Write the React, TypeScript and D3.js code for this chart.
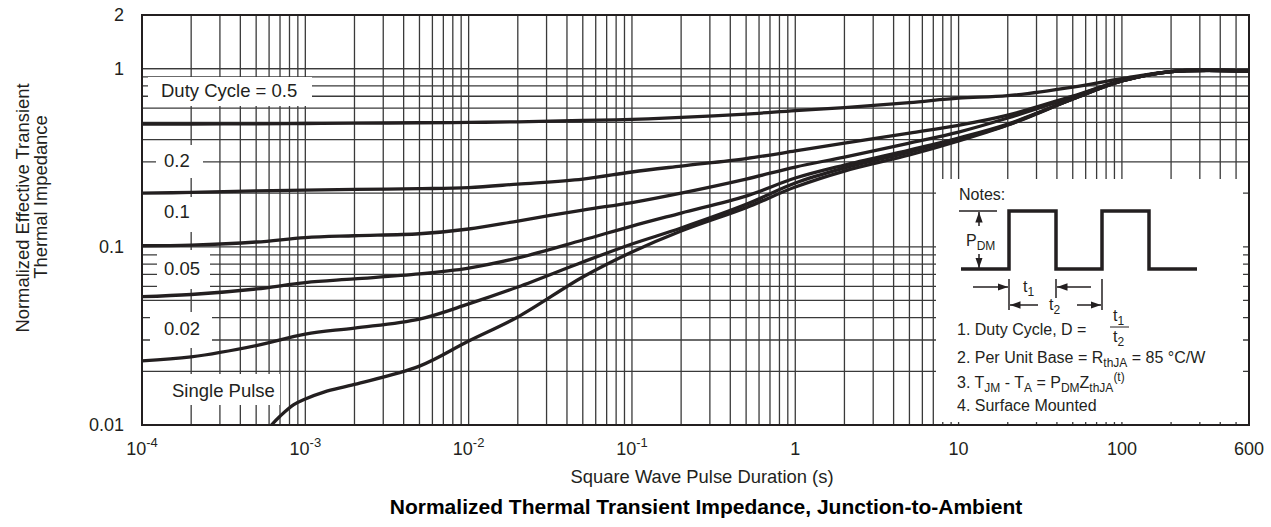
import React from 'react';
import * as d3 from 'd3';

// Chart values
const pulseDurations = [1e-4, 2e-4, 5e-4, 1e-3, 2e-3, 5e-3, 1e-2, 2e-2, 5e-2, 0.1, 0.2, 0.5, 1, 2, 5, 10, 20, 50, 100, 200, 600];
const duty05 = [0.489, 0.489, 0.49, 0.492, 0.494, 0.497, 0.499, 0.503, 0.512, 0.519, 0.532, 0.556, 0.582, 0.605, 0.645, 0.683, 0.705, 0.788, 0.88, 0.963, 0.97];
const duty02 = [0.2, 0.202, 0.206, 0.208, 0.21, 0.212, 0.215, 0.225, 0.24, 0.263, 0.284, 0.313, 0.345, 0.382, 0.435, 0.481, 0.548, 0.702, 0.857, 0.963, 0.97];
const duty01 = [0.1014, 0.1023, 0.1064, 0.1127, 0.1154, 0.1184, 0.1259, 0.1396, 0.1609, 0.1773, 0.2003, 0.2401, 0.2804, 0.3191, 0.3824, 0.4407, 0.5283, 0.693, 0.857, 0.963, 0.97];
const duty005 = [0.0525, 0.054, 0.058, 0.063, 0.066, 0.0704, 0.076, 0.0866, 0.1092, 0.1308, 0.1547, 0.1927, 0.2432, 0.2877, 0.3493, 0.4079, 0.4888, 0.675, 0.852, 0.963, 0.97];
const duty002 = [0.0229, 0.0241, 0.0279, 0.0324, 0.035, 0.0393, 0.0478, 0.0595, 0.0822, 0.1037, 0.1275, 0.173, 0.228, 0.2768, 0.3404, 0.4027, 0.4826, 0.675, 0.852, 0.963, 0.97];
const singlePulseDurations = [6.2e-4, 7e-4, 8.5e-4, 1e-3, 1.3e-3, 2e-3, 5e-3, 1e-2, 2e-2, 5e-2, 0.1, 0.2, 0.5, 1, 2, 5, 10, 20, 50, 100, 200, 600];
const singlePulse = [0.01, 0.0112, 0.013, 0.014, 0.0153, 0.0169, 0.0214, 0.0296, 0.0404, 0.0677, 0.0935, 0.1227, 0.166, 0.2165, 0.2662, 0.3275, 0.3925, 0.4826, 0.675, 0.852, 0.963, 0.97];

const xTickValues = [1e-4, 1e-3, 1e-2, 1e-1, 1, 10, 100, 600];
const xTickBases = ['10', '10', '10', '10', '1', '10', '100', '600'];
const xTickExps = ['-4', '-3', '-2', '-1', '', '', '', ''];
const yTickValues = [0.01, 0.1, 1, 2];
const yTickLabels = ['0.01', '0.1', '1', '2'];

const curveLabels = ['Duty Cycle = 0.5', '0.2', '0.1', '0.05', '0.02', 'Single Pulse'];

// label placement: [boxX0, boxY0, boxX1, boxY1, textX, baseline]
const labelLayout = [
  [148, 77, 312, 106, 161, 97],
  [156, 145, 203, 178, 164, 167],
  [156, 197, 203, 232, 164, 218],
  [157, 250, 210, 289, 164, 275],
  [150, 312, 212, 348, 164, 335],
  [160, 374, 280, 405, 172, 397],
];

const FONT = '"Liberation Sans", Arial, Helvetica, sans-serif';
const INK = '#231f20';

// text pieces with a baseline shift: 0 normal, 4 subscript, -7 superscript
const rich = (parts: [string, number][]) =>
  parts.map(([s, shift], i) => {
    const prev = i > 0 ? parts[i - 1][1] : 0;
    return (
      <tspan key={i} dy={shift - prev} fontSize={shift === 0 ? undefined : 12}>
        {s}
      </tspan>
    );
  });

const App: React.FC = () => {
  const left = 142, right = 1249, top = 15, bottom = 425;
  const x = d3.scaleLog().domain([1e-4, 600]).range([left, right]);
  const y = d3.scaleLog().domain([0.01, 2]).range([bottom, top]);

  // grid values at 1..9 per decade
  const xGrid: number[] = [];
  for (let d = -4; d <= 2; d++) for (let m = 1; m <= 9; m++) {
    const v = m * Math.pow(10, d);
    if (v <= 600) xGrid.push(v);
  }
  const yGrid: number[] = [];
  for (let d = -2; d <= 0; d++) for (let m = 1; m <= 9; m++) yGrid.push(m * Math.pow(10, d));
  yGrid.push(1, 2);

  const line = d3
    .line<[number, number]>()
    .x((d) => x(d[0]))
    .y((d) => y(d[1]))
    .curve(d3.curveCatmullRom.alpha(0.5));

  const series: [number, number][][] = [
    pulseDurations.map((t, i) => [t, duty05[i]] as [number, number]),
    pulseDurations.map((t, i) => [t, duty02[i]] as [number, number]),
    pulseDurations.map((t, i) => [t, duty01[i]] as [number, number]),
    pulseDurations.map((t, i) => [t, duty005[i]] as [number, number]),
    pulseDurations.map((t, i) => [t, duty002[i]] as [number, number]),
    singlePulseDurations.map((t, i) => [t, singlePulse[i]] as [number, number]),
  ];

  return (
    <svg
      width={1271}
      height={527}
      style={{ position: 'absolute', left: 0, top: 0, background: '#fff' }}
      fontFamily={FONT}
    >
      <defs>
        <clipPath id="plot">
          <rect x={left} y={top} width={right - left} height={bottom - top} />
        </clipPath>
        <marker id="ah" viewBox="0 0 10 10" refX="10" refY="5" markerWidth="7" markerHeight="7" orient="auto">
          <path d="M0,1.5 L10,5 L0,8.5 Z" fill={INK} />
        </marker>
      </defs>
      <rect width={1271} height={527} fill="#fff" />

      {/* grid */}
      <g stroke="#3a3a3a" strokeWidth={1.3}>
        {xGrid.map((v) => (
          <line key={'gx' + v} x1={x(v)} x2={x(v)} y1={top} y2={bottom} />
        ))}
        {yGrid.map((v, i) => (
          <line key={'gy' + i} x1={left} x2={right} y1={y(v)} y2={y(v)} />
        ))}
      </g>

      {/* curve labels */}
      {curveLabels.map((label, i) => {
        const [bx0, by0, bx1, by1, tx, ty] = labelLayout[i];
        return (
          <g key={label}>
            <rect x={bx0} y={by0} width={bx1 - bx0} height={by1 - by0} fill="#fff" />
            <text x={tx} y={ty} fontSize={18.5} fill={INK}>{label}</text>
          </g>
        );
      })}

      {/* notes box */}
      <rect x={936} y={179} width={307} height={243} fill="#fff" />
      <g fill={INK} fontSize={16}>
        <text x={959} y={200}>Notes:</text>
        <path d="M961,269 H1009 V211 H1056 V269 H1102 V211 H1149 V269 H1197" fill="none" stroke={INK} strokeWidth={3.5} />
        <line x1={959} x2={997} y1={211} y2={211} stroke={INK} strokeWidth={1.5} />
        <line x1={979} x2={979} y1={226} y2={212} stroke={INK} strokeWidth={1.5} markerEnd="url(#ah)" />
        <line x1={979} x2={979} y1={254} y2={268} stroke={INK} strokeWidth={1.5} markerEnd="url(#ah)" />
        <text x={966} y={246}>{rich([['P', 0], ['DM', 4]])}</text>
        <g stroke={INK} strokeWidth={1.5}>
          <line x1={1009} x2={1009} y1={279} y2={310} />
          <line x1={1056} x2={1056} y1={279} y2={298} />
          <line x1={1102} x2={1102} y1={279} y2={310} />
          <line x1={973} x2={1008} y1={287} y2={287} markerEnd="url(#ah)" />
          <line x1={1091} x2={1057} y1={287} y2={287} markerEnd="url(#ah)" />
          <line x1={1038} x2={1010} y1={305} y2={305} markerEnd="url(#ah)" />
          <line x1={1077} x2={1101} y1={305} y2={305} markerEnd="url(#ah)" />
        </g>
        <text x={1023} y={292}>{rich([['t', 0], ['1', 4]])}</text>
        <text x={1049} y={310}>{rich([['t', 0], ['2', 4]])}</text>
        <text x={957} y={335}>1. Duty Cycle, D =</text>
        <text x={1113} y={321}>{rich([['t', 0], ['1', 4]])}</text>
        <line x1={1110} x2={1129} y1={327} y2={327} stroke={INK} strokeWidth={1} />
        <text x={1113} y={342}>{rich([['t', 0], ['2', 4]])}</text>
        <text x={957} y={363}>
          {rich([['2. Per Unit Base = R', 0], ['thJA', 4], [' = 85 °C/W', 0]])}
        </text>
        <text x={957} y={388}>
          {rich([
            ['3. T', 0],
            ['JM', 4],
            [' - T', 0],
            ['A', 4],
            [' = P', 0],
            ['DM', 4],
            ['Z', 0],
            ['thJA', 4],
            ['(t)', -7],
          ])}
        </text>
        <text x={957} y={411}>4. Surface Mounted</text>
      </g>

      {/* curves */}
      <g clipPath="url(#plot)" fill="none" stroke={INK} strokeWidth={3.3} strokeLinejoin="round">
        {series.map((s, i) => (
          <path key={'c' + i} d={line(s) || ''} />
        ))}
      </g>

      {/* frame */}
      <rect x={left} y={top} width={right - left} height={bottom - top} fill="none" stroke={INK} strokeWidth={2} />

      {/* y ticks */}
      <g fontSize={18} fill={INK} textAnchor="end">
        {yTickValues.map((v, i) => (
          <text key={'yt' + v} x={124} y={y(v)} dy="0.35em">{yTickLabels[i]}</text>
        ))}
      </g>

      {/* x ticks */}
      <g fontSize={18} fill={INK} textAnchor="middle">
        {xTickValues.map((v, i) => (
          <text key={'xt' + v} x={x(v)} y={455}>
            {xTickBases[i]}
            {xTickExps[i] ? <tspan dy={-8} fontSize={13}>{xTickExps[i]}</tspan> : null}
          </text>
        ))}
      </g>

      {/* axis titles */}
      <text x={702} y={483} fontSize={18.4} fill={INK} textAnchor="middle">
        Square Wave Pulse Duration (s)
      </text>
      <text transform="translate(29,208) rotate(-90)" fontSize={18.4} fill={INK} textAnchor="middle">
        Normalized Effective Transient
      </text>
      <text transform="translate(47,197) rotate(-90)" fontSize={18.4} fill={INK} textAnchor="middle">
        Thermal Impedance
      </text>
      <text x={706} y={514} fontSize={21} fontWeight="bold" fill="#000" textAnchor="middle">
        Normalized Thermal Transient Impedance, Junction-to-Ambient
      </text>
    </svg>
  );
};

export default App;
